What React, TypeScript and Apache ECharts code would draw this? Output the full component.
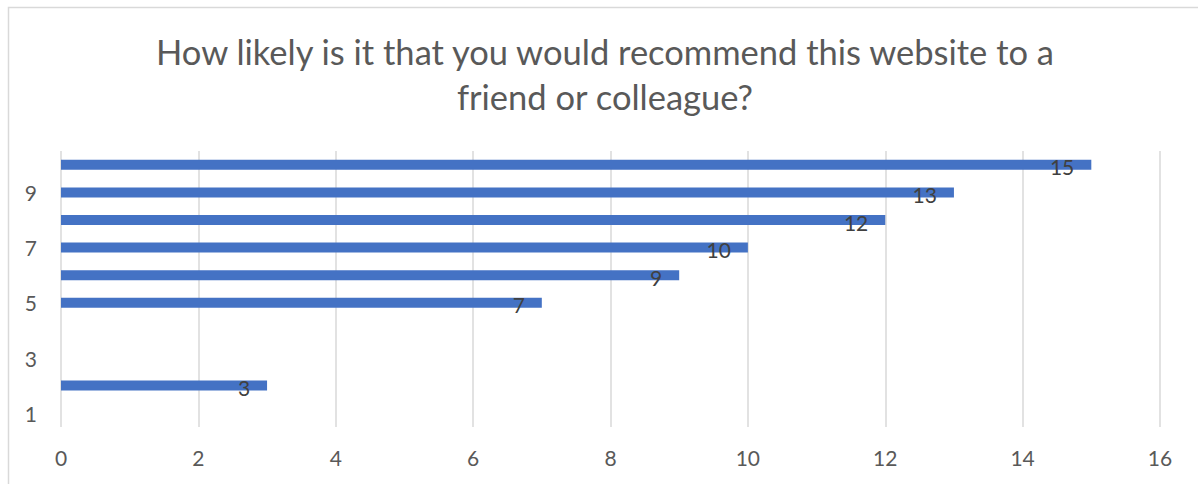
import React, { useEffect, useRef } from "react";
import * as echarts from "echarts";

const titleLines = [
  "How likely is it that you would recommend this website to a",
  "friend or colleague?",
];
const categories = ["1", "2", "3", "4", "5", "6", "7", "8", "9", "10"];
const counts: (number | string)[] = ["-", 3, "-", "-", 7, 9, 10, 12, 13, 15];
const xMin = 0;
const xMax = 16;
const xStep = 2;

const FONT = "Lato, 'Open Sans', sans-serif";

export default function App() {
  const ref = useRef<HTMLDivElement>(null);
  useEffect(() => {
    if (!ref.current) return;
    const chart = echarts.init(ref.current, undefined, { renderer: "svg" });
    chart.setOption({
      animation: false,
      backgroundColor: "#ffffff",
      textStyle: { fontFamily: FONT },
      title: {
        text: titleLines.join("\n"),
        left: 605,
        top: 29,
        textAlign: "center",
        padding: 0,
        textStyle: {
          fontFamily: FONT,
          fontSize: 34.5,
          fontWeight: "normal",
          color: "#595959",
          lineHeight: 45,
        },
      },
      graphic: [
        {
          type: "rect",
          shape: { x: 8.5, y: 7.5, width: 1300, height: 600 },
          style: { fill: "none", stroke: "#d9d9d9", lineWidth: 1.5 },
          silent: true,
        },
      ],
      grid: { left: 61, right: 38, top: 151, bottom: 57, containLabel: false },
      xAxis: {
        type: "value",
        min: xMin,
        max: xMax,
        interval: xStep,
        axisLine: { show: false },
        axisTick: { show: false },
        axisLabel: {
          color: "#595959",
          fontSize: 21,
          fontFamily: FONT,
          margin: 20,
        },
        splitLine: { show: true, lineStyle: { color: "#d9d9d9", width: 1.5 } },
      },
      yAxis: {
        type: "category",
        data: categories,
        axisLine: { show: false },
        axisTick: { show: false },
        axisLabel: {
          color: "#595959",
          fontSize: 21,
          fontFamily: FONT,
          margin: 24,
          interval: 1,
        },
        splitLine: { show: false },
      },
      series: [
        {
          type: "bar",
          data: counts,
          barWidth: 10,
          itemStyle: { color: "#4472C4" },
          label: {
            show: true,
            position: "insideRight",
            distance: 17,
            offset: [0, 2],
            color: "#404040",
            fontSize: 21,
            fontFamily: FONT,
          },
        },
      ],
    });
    return () => chart.dispose();
  }, []);
  return (
    <div
      ref={ref}
      style={{ position: "absolute", left: 0, top: 0, width: 1198, height: 484 }}
    />
  );
}
